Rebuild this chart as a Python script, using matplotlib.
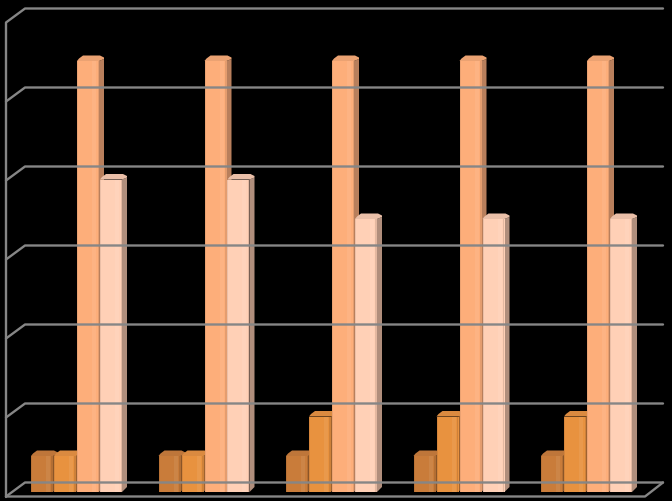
import matplotlib
matplotlib.use('Agg')
import matplotlib.pyplot as plt
from matplotlib.patches import Polygon

# one list per series (gridlines are 1 unit apart)
categories = [0, 1, 2, 3, 4]
series_a = [0.5, 0.5, 0.5, 0.5, 0.5]
series_b = [0.5, 0.5, 1.0, 1.0, 1.0]
series_c = [5.5, 5.5, 5.5, 5.5, 5.5]
series_d = [4.0, 4.0, 3.5, 3.5, 3.5]
grid_values = [0, 1, 2, 3, 4, 5, 6]

# face, side, top
colors = [('#C97C3A', '#8A5528', '#BE763A'),
          ('#E8923F', '#9E6230', '#DA8A40'),
          ('#FDAE7A', '#B87F5C', '#EBA272'),
          ('#FFD0B6', '#B08E7C', '#EABFA8')]

PX_X = 1 / 127.5  # data units per pixel
PX_Y = 1 / 79
GRID = '#868686'


def setup_plot():
    fig = plt.figure(figsize=(6.72, 5.02), dpi=100, facecolor='black')
    ax = fig.add_axes([0, 0, 1, 1])
    ax.set_xlim(-31 * PX_X, 641 * PX_X)
    ax.set_ylim(-9 * PX_Y, 493 * PX_Y)
    ax.axis('off')
    return fig, ax


def draw_walls(ax):
    """Back gridlines, left wall and floor."""
    x_left = -25 * PX_X
    x_back = -6 * PX_X
    x_right = 632 * PX_X
    x_front = 614 * PX_X
    back = 9.5 * PX_Y
    front = -4.5 * PX_Y
    style = dict(color=GRID, linewidth=1.7, solid_capstyle='round')
    for v in grid_values:
        ax.plot([x_left, x_back, x_right], [v + front, v + back, v + back], **style)
    ax.plot([x_left, x_left], [front, grid_values[-1] + front], **style)
    ax.plot([x_left, x_front, x_right], [front, front, back], **style)


def draw_bar(ax, x, value, width, cols):
    face, side, top = cols
    depth_x = 5 * PX_X
    depth_y = 5 * PX_Y
    peak = value + 2 * PX_Y  # drawn top sits a little above the value
    ft = peak - 5.5 * PX_Y
    x1 = x + width
    ax.add_patch(Polygon([(x1, 0), (x1 + depth_x, depth_y), (x1 + depth_x, ft + 2 * PX_Y),
                          (x1, ft)], closed=True, facecolor=side, edgecolor='none'))
    ax.add_patch(Polygon([(x, ft), (x + 2 * PX_X, peak - 3 * PX_Y), (x + 6 * PX_X, peak),
                          (x1 + 1 * PX_X, peak), (x1 + depth_x, peak - 2 * PX_Y),
                          (x1 + depth_x, ft + 2 * PX_Y), (x1, ft)],
                         closed=True, facecolor=top, edgecolor='none'))
    ax.bar(x, ft, width=width, align='edge', color=face, linewidth=0)
    # bevel along the edges of the front, lighter stripe towards the right
    ax.bar(x, ft, width=1 * PX_X, align='edge', color=side, alpha=0.25, linewidth=0)
    ax.bar(x + 15 * PX_X, ft, width=4 * PX_X, align='edge', color='white', alpha=0.07, linewidth=0)
    ax.bar(x1 - 1.5 * PX_X, ft, width=1.5 * PX_X, align='edge', color=side, alpha=0.35, linewidth=0)


def main():
    fig, ax = setup_plot()
    draw_walls(ax)
    width = 22 * PX_X
    step = 23 * PX_X
    all_series = [series_a, series_b, series_c, series_d]
    for i, cat in enumerate(categories):
        for j, values in enumerate(all_series):
            draw_bar(ax, cat + j * step, values[i], width, colors[j])
    fig.savefig('out.png', dpi=100, facecolor='black')
    plt.close(fig)


main()
